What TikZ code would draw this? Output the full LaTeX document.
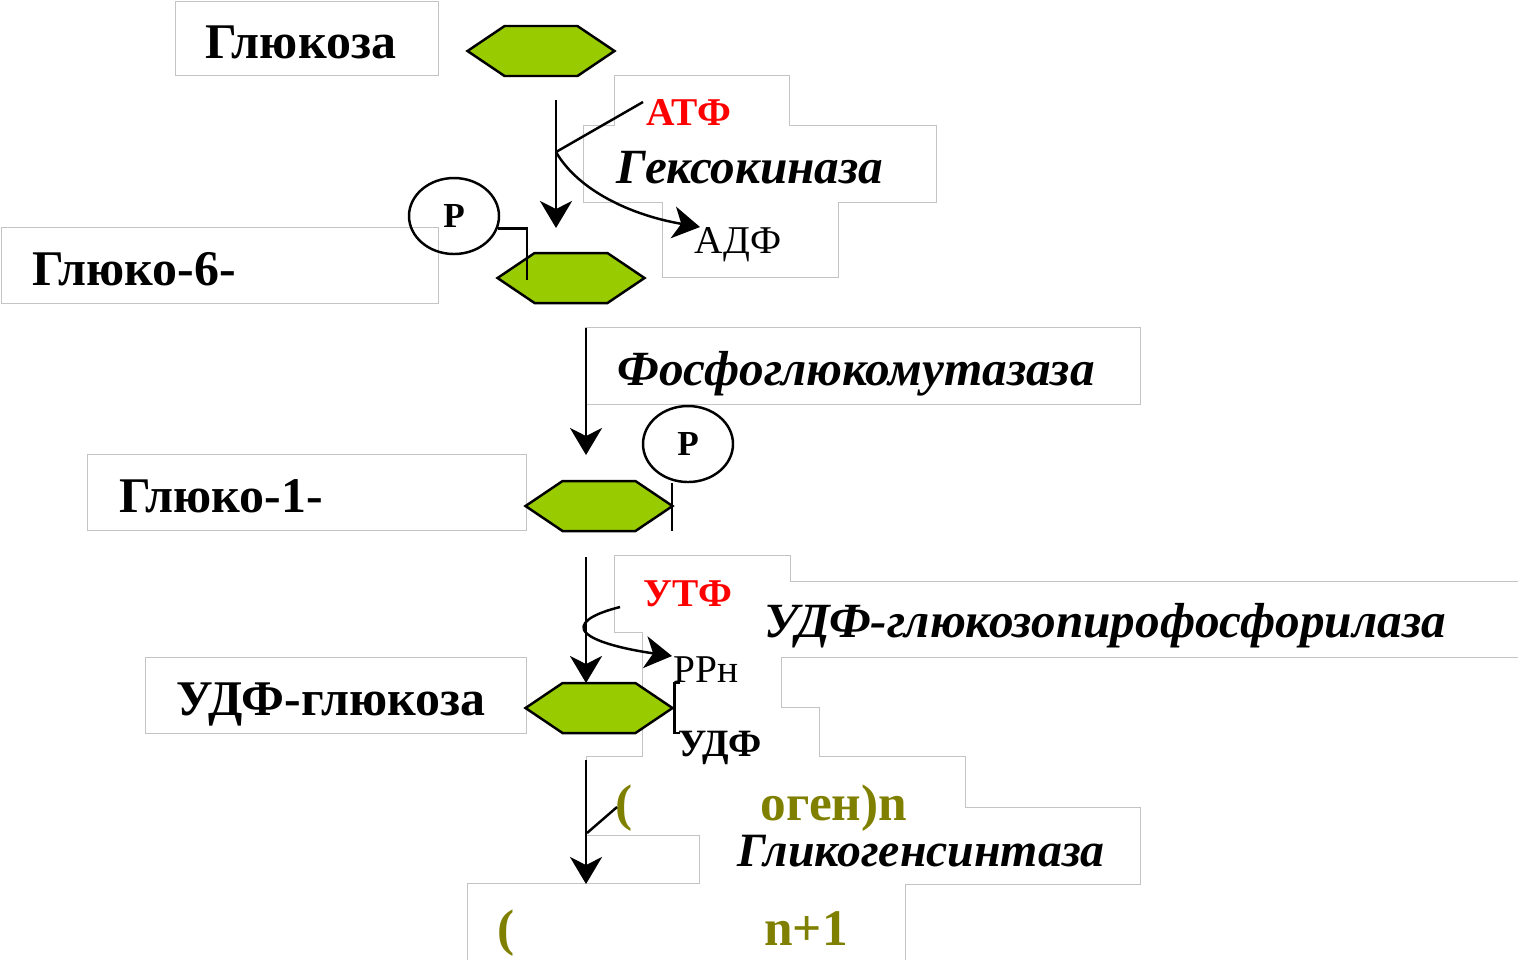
\documentclass[tikz,border=0pt]{standalone}
\usepackage{fontspec}
\setmainfont{Liberation Serif}
\usetikzlibrary{arrows.meta,shapes.geometric,shapes.symbols,calc}
\definecolor{hexgreen}{HTML}{99CC00}
\definecolor{nucred}{HTML}{FF0000}
\definecolor{glyolive}{HTML}{808000}
\definecolor{framegray}{HTML}{C4C4C4}
\pgfdeclarelayer{frames}
\pgfdeclarelayer{blank}
\pgfsetlayers{frames,blank,main}
\tikzset{
  arr/.style={-{Stealth[length=2.7mm,width=3.2mm,inset=0.8mm]},line width=0.7pt},
  lnk/.style={line width=0.7pt},
  frame/.style={draw=framegray,line width=0.25mm},
  hexa/.style={signal,signal to=east and west,signal pointer angle=68,draw,
    line width=0.7pt,fill=hexgreen,minimum width=14.7mm,minimum height=5mm,inner sep=0pt},
  pcirc/.style={ellipse,draw,line width=0.7pt,minimum width=9mm,minimum height=7.6mm,
    inner sep=0pt,font=\fontsize{10}{11}\selectfont\bfseries},
  lbl/.style={anchor=base,inner sep=0pt,font=\fontsize{14.2}{16}\selectfont\bfseries},
  enz/.style={anchor=base,inner sep=0pt,font=\fontsize{14}{16}\selectfont\bfseries\itshape},
  nuc/.style={anchor=base,inner sep=0pt,text=nucred,font=\fontsize{11.2}{13}\selectfont\bfseries},
  side/.style={anchor=base,inner sep=0pt,font=\fontsize{11.2}{13}\selectfont},
  gly/.style={anchor=base,inner sep=0pt,text=glyolive,font=\fontsize{14.6}{16}\selectfont\bfseries},
}
\def\boxlist{176/2/438/75, 615/76/789/150, 584/126/936/202, 663/195/838/277,
  2/228/438/303, 586/328/1140/404, 88/455/526/530, 615/556/790/632,
  781/582/1540/657, 643/610/781/708, 643/708/819/780, 146/658/526/733,
  587/757/965/835, 700/808/1140/884, 468/884/905/975}

\begin{document}
\begin{tikzpicture}[x=0.1mm,y=-0.1mm]
\useasboundingbox (0,0) rectangle (1518,959);

% text frames
\begin{pgfonlayer}{frames}
\fill[white] (0,0) rectangle (1518,959);
\foreach \xa/\ya/\xb/\yb in \boxlist
  \draw[frame] (\xa,\ya) rectangle (\xb,\yb);
\end{pgfonlayer}
\begin{pgfonlayer}{blank}
\foreach \xa/\ya/\xb/\yb in \boxlist
  \fill[white] (\xa,\ya) rectangle (\xb,\yb);
\end{pgfonlayer}

\node[hexa] (glc) at (541,51) {};
\node[hexa] (g6p) at (571,278) {};
\node[hexa] (g1p) at (599,506) {};
\node[hexa] (udpg) at (599,708) {};
\node[pcirc] (p1) at (454,216) {P};
\node[pcirc] (p2) at (688,444) {P};

\node[lbl] (tglc) at (301,58) {Глюкоза};
\node[nuc] (tatp) at (689,125) {АТФ};
\node[enz] (thex) at (750,183) {Гексокиназа};
\node[side] (tadp) at (738,253) {АДФ};
\node[lbl] (tg6p) at (134,285) {Глюко-6-};
\node[enz] (tpgm) at (856,385) {Фосфоглюкомутазаза};
\node[lbl] (tg1p) at (221,512) {Глюко-1-};
\node[nuc] (tutp) at (688,606) {УТФ};
\node[enz] (tupp) at (1105,637) {УДФ-глюкозопирофосфорилаза};
\node[side] (tppi) at (706,682) {РРн};
\node[lbl,font=\fontsize{11}{13}\selectfont\bfseries] (tudp) at (720,756) {УДФ};
\node[lbl] (tudpg) at (331,715) {УДФ-глюкоза};
\node[gly] (tpar1) at (624,820) {(};
\node[gly] (tgn) at (834,820) {оген)n};
\node[enz,font=\fontsize{13.6}{16}\selectfont\bfseries\itshape] (tgs) at (921,866) {Гликогенсинтаза};
\node[gly] (tpar2) at (506,945) {(};
\node[gly] (tgn1) at (806,945) {n+1};

\coordinate (s1) at (556,100);
\coordinate (t1) at (556,228);
\coordinate (j1) at (556,152);
\coordinate (c1) at (643,102);
\coordinate (d1) at (700,227);
\coordinate (k1) at (527,280);
\coordinate (s2) at (586,328);
\coordinate (t2) at (586,455);
\coordinate (k2) at (672,531);
\coordinate (s3) at (586,557);
\coordinate (t3) at (586,683);
\coordinate (c3) at (620,607);
\coordinate (j3) at (584,630);
\coordinate (d3) at (672,656);
\coordinate (s4) at (586,760);
\coordinate (t4) at (586,884);
\coordinate (c4) at (617,807);
\coordinate (j4) at (587,833);

\draw[arr] (s1) -- (t1);
\draw[lnk] (c1) -- (j1);
\draw[arr] (j1) .. controls (578,190) and (630,215) .. (d1);
\draw[lnk] (p1.-16) -| (k1);
\draw[arr] (s2) -- (t2);
\draw[lnk] (p2.south -| k2) -- (k2);
\draw[arr] (s3) -- (t3);
\draw[arr] (c3) .. controls (600,612) and (580,620) .. (j3)
  .. controls (590,642) and (630,650) .. (d3);
\draw[lnk] (udpg.east) ++(5,-25) -- ++(-5,0) -- ++(0,50) -- ++(5,0);
\draw[arr] (s4) -- (t4);
\draw[lnk] (c4) -- (j4);
\end{tikzpicture}
\end{document}
